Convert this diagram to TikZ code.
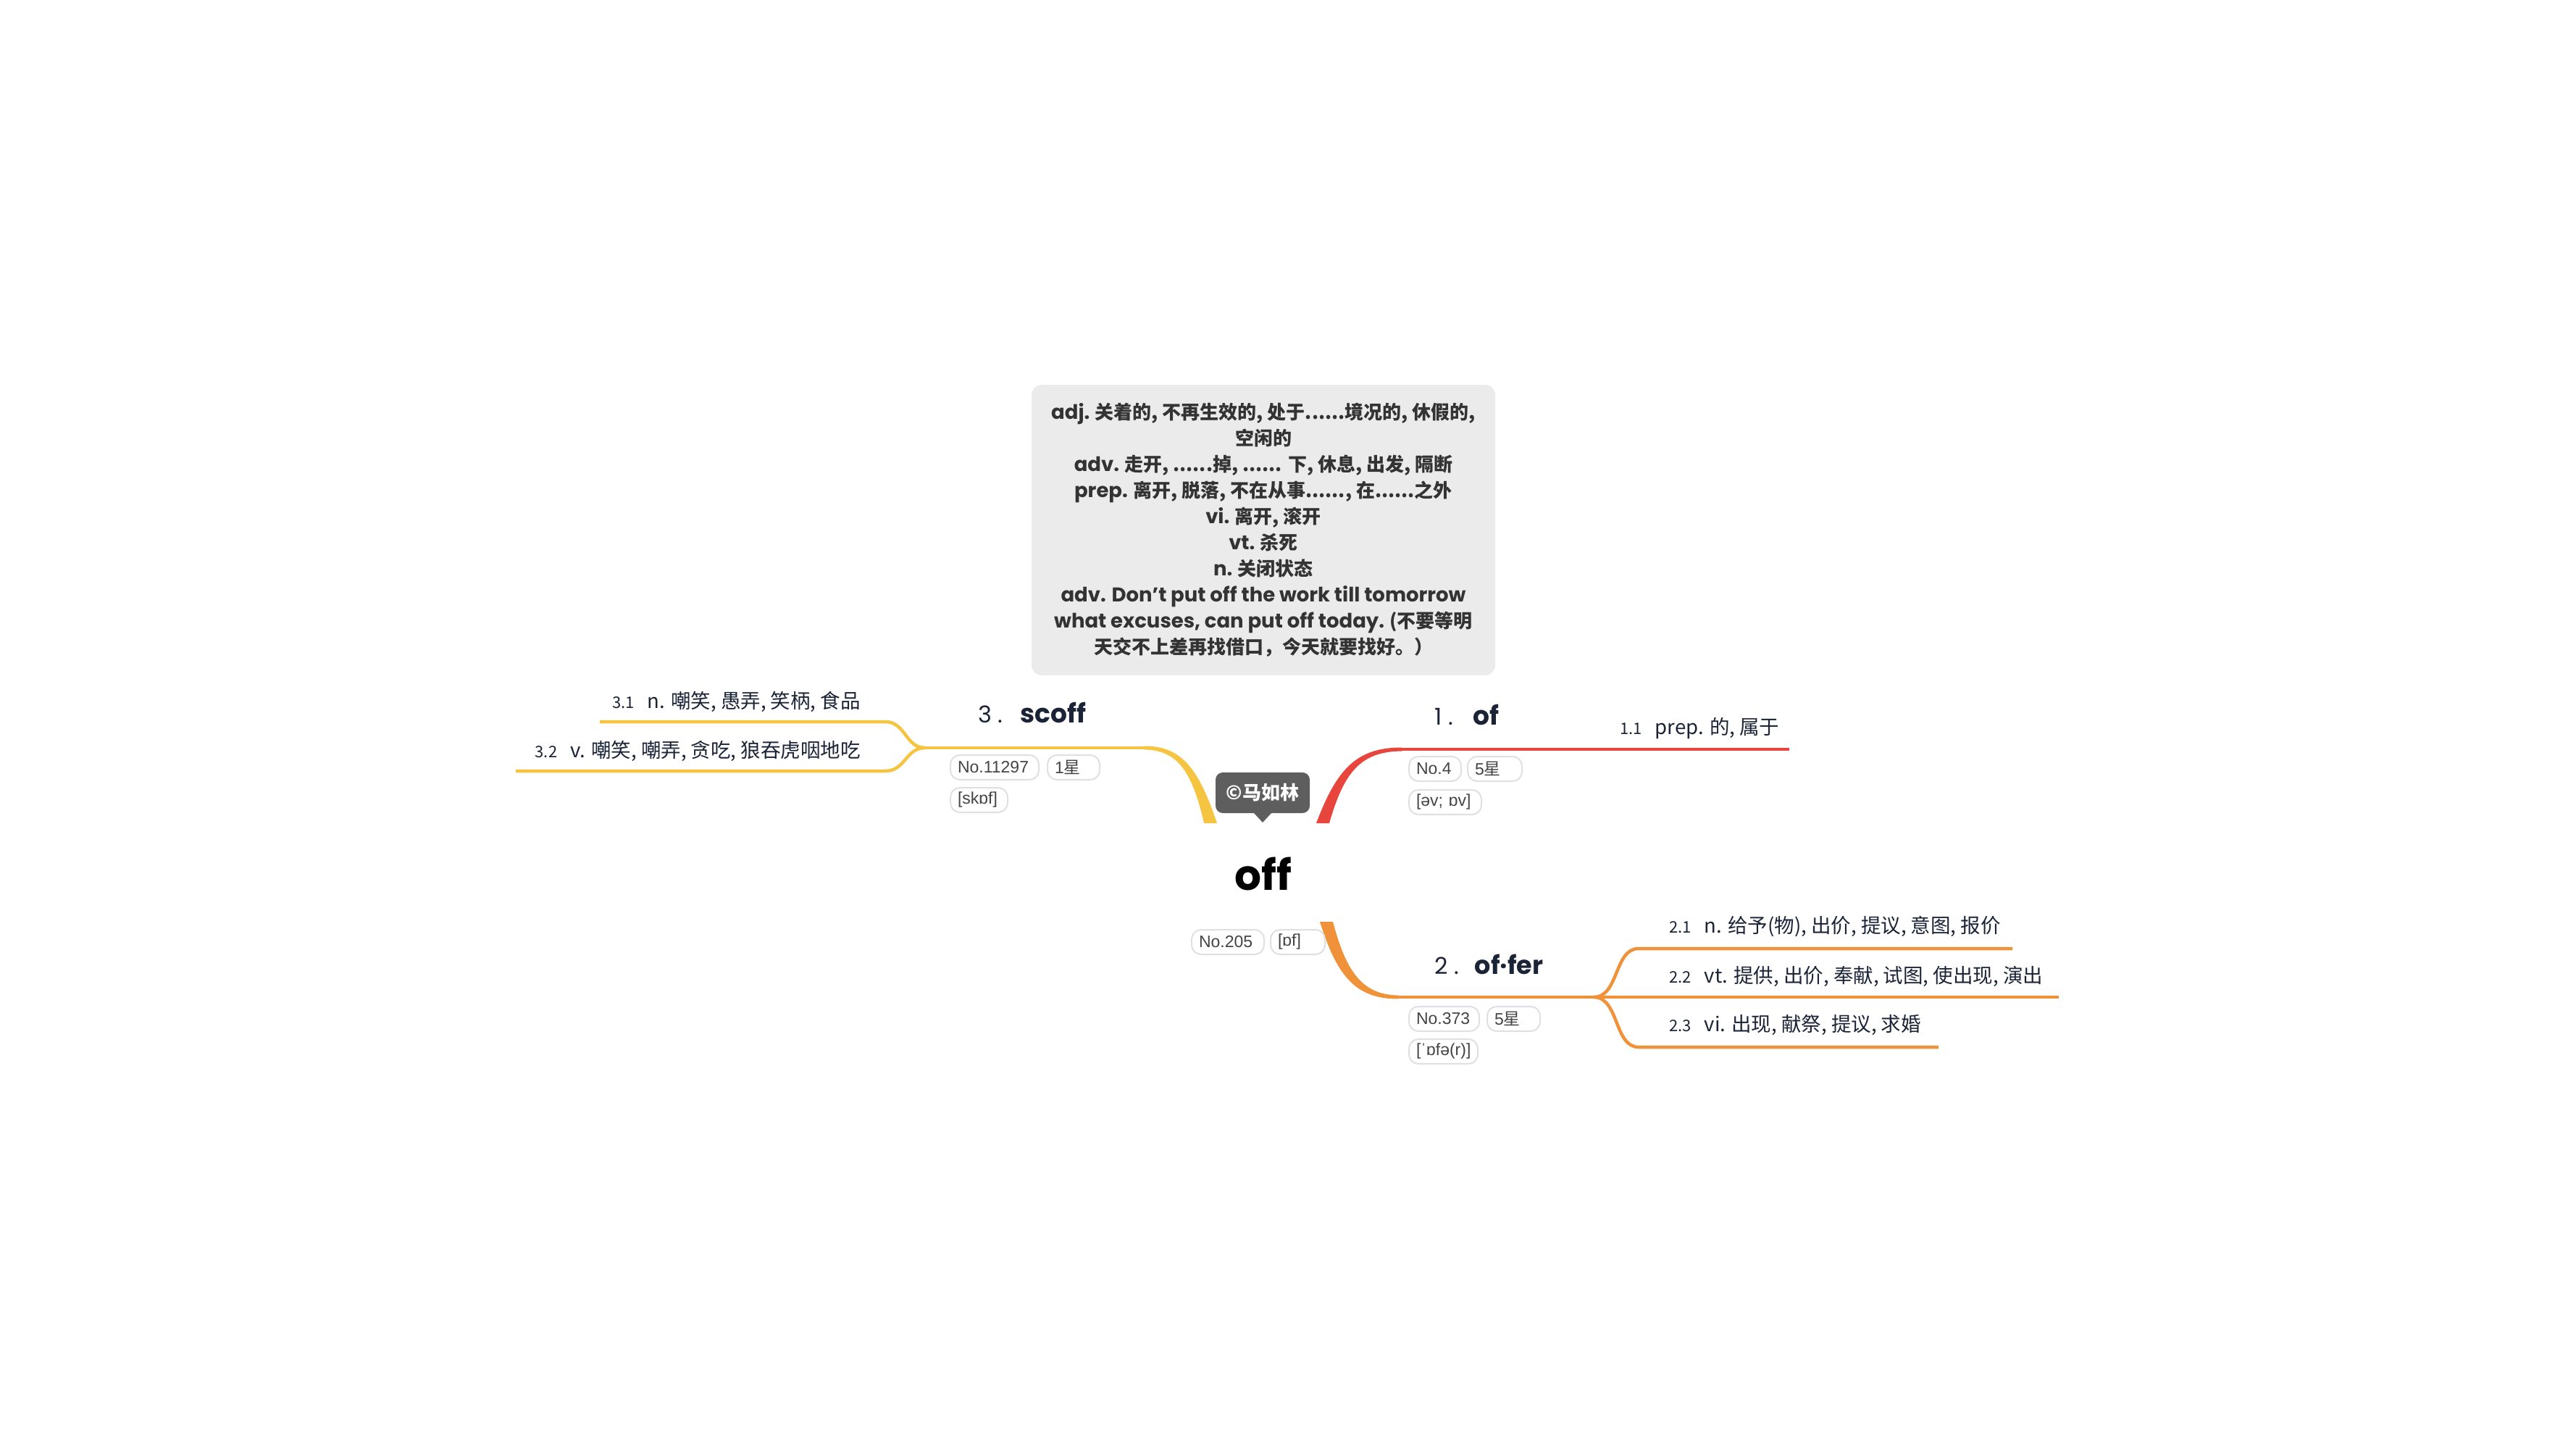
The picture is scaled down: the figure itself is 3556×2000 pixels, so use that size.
\documentclass[tikz,border=0pt]{standalone}
\usepackage{fontspec}
\setmainfont{Poppins}
\newfontfamily\cjk{Noto Sans CJK SC}
\newfontfamily\tagf{Liberation Sans}
\newcommand{\zh}[1]{{\cjk #1}}
\newcommand{\lt}[1]{{\fontsize{27.5}{36}\selectfont #1}}
\definecolor{redc}{HTML}{E8463C}
\definecolor{orac}{HTML}{F0923A}
\definecolor{yelc}{HTML}{F5C542}
\definecolor{boxfill}{HTML}{EBEBEB}
\definecolor{boxtext}{HTML}{333333}
\definecolor{navy}{HTML}{1B2437}
\definecolor{tagline}{HTML}{E0E0E0}
\definecolor{tagtext}{HTML}{444444}
\definecolor{bubble}{HTML}{5E5E5E}
\begin{document}
\begin{tikzpicture}[x=1pt,y=-1pt,
  tagbox/.style={draw=tagline, line width=2pt, rounded corners=13pt, fill=white,
    anchor=west, inner xsep=10pt, inner ysep=0pt, minimum height=34pt,
    align=left, text=tagtext, font=\tagf\fontsize{23}{24}\selectfont},
  sublabel/.style={anchor=west, inner sep=0pt, text=navy,
    font=\cjk\fontsize{27.5}{30}\selectfont},
  titlelabel/.style={anchor=west, inner sep=0pt, text=navy},
  subline/.style={line width=4.5pt, line cap=butt},
]
\fill[white] (0,0) rectangle (3556,2000);
\useasboundingbox (0,0) rectangle (3556,2000);

% ---------- coordinates ----------
\coordinate (rh) at (1930,1034);
\coordinate (re) at (2470,1034);
\coordinate (yh) at (1585,1032);
\coordinate (ysp) at (1277,1032);
\coordinate (y1) at (1222,996);
\coordinate (y1e) at (828,996);
\coordinate (y2) at (1222,1064);
\coordinate (y2e) at (712,1064);
\coordinate (oh) at (1925,1376);
\coordinate (osp) at (2200,1376);
\coordinate (o1) at (2262,1309);
\coordinate (o1e) at (2778,1309);
\coordinate (o2e) at (2842,1376);
\coordinate (o3) at (2262,1445);
\coordinate (o3e) at (2676,1445);

% ---------- red branch ----------
\fill[redc] (1817,1136) .. controls (1845,1062) and (1872,1031.5) .. (1935,1031.5)
  -- (1935,1036.5) .. controls (1878,1037) and (1855,1066) .. (1835,1136) -- cycle;
\draw[redc, subline] (rh) -- (re);

% ---------- yellow branch ----------
\fill[yelc] (1680,1136) .. controls (1655,1062) and (1632,1029.5) .. (1580,1029.5)
  -- (1580,1034.5) .. controls (1626,1035) and (1646,1066) .. (1662,1136) -- cycle;
\draw[yelc, subline] (yh) -- (ysp);
\draw[yelc, subline] (ysp) .. controls (1250,1032) and (1250,996) .. (y1) -- (y1e);
\draw[yelc, subline] (ysp) .. controls (1250,1032) and (1250,1064) .. (y2) -- (y2e);

% ---------- orange branch ----------
\fill[orac] (1822,1272) .. controls (1845,1345) and (1870,1378.5) .. (1930,1378.5)
  -- (1930,1373.5) .. controls (1880,1373) and (1858,1340) .. (1840,1272) -- cycle;
\draw[orac, subline] (oh) -- (osp);
\draw[orac, subline] (osp) .. controls (2235,1376) and (2228,1309) .. (o1) -- (o1e);
\draw[orac, subline] (osp) -- (o2e);
\draw[orac, subline] (osp) .. controls (2235,1376) and (2228,1445) .. (o3) -- (o3e);

% ---------- gray definition box ----------
\node[fill=boxfill, rounded corners=14pt, minimum width=640pt, minimum height=401pt,
  inner sep=0pt, align=center, text=boxtext,
  font=\bfseries\fontsize{26}{36}\selectfont] (defbox) at (1744,731.5) {%
  \lt{adj.} \zh{关着的, 不再生效的, 处于......境况的, 休假的,}\\
  \zh{空闲的}\\
  \lt{adv.} \zh{走开, ......掉, ...... 下, 休息, 出发, 隔断}\\
  \lt{prep.} \zh{离开, 脱落, 不在从事......, 在......之外}\\
  \lt{vi.} \zh{离开, 滚开}\\
  \lt{vt.} \zh{杀死}\\
  \lt{n.} \zh{关闭状态}\\
  \lt{adv. Don't put off the work till tomorrow}\\
  \lt{what excuses, can put off today.} \zh{(不要等明}\\
  \zh{天交不上差再找借口，今天就要找好。）}};

% ---------- center ----------
\node[inner sep=0pt, font=\bfseries\fontsize{58}{60}\selectfont, text=black] (center) at (1744,1206) {off};

\node[fill=bubble, rounded corners=10pt, minimum width=130pt, minimum height=56pt,
  inner sep=0pt, text=white, font=\cjk\bfseries\fontsize{26}{28}\selectfont] (bubble) at (1743,1094) {©马如林};
\fill[bubble] (1730,1121) -- (1756,1121) -- (1743,1135) -- cycle;

\node[tagbox, text width=80pt] (c205) at (1644,1300) {No.205};
\node[tagbox, text width=55pt] (cof) at (1753,1300) {[ɒf]};

% ---------- branch 1 ----------
\node[titlelabel] (t1) at (1980,987) {\fontsize{32}{34}\selectfont 1 .\hspace{28pt}{\bfseries\fontsize{36}{38}\selectfont of}};
\node[sublabel] (s11) at (2236,1005) {{\fontsize{22}{24}\selectfont 1.1}\hspace{18pt}prep. 的, 属于};
\node[tagbox, text width=52pt] (n1) at (1944,1061) {No.4};
\node[tagbox, text width=55pt] (r1) at (2025,1061) {5\zh{星}};
\node[tagbox, text width=80pt] (p1) at (1944,1107) {[əv; ɒv]};

% ---------- branch 2 ----------
\node[titlelabel] (t2) at (1980,1331) {\fontsize{32}{34}\selectfont 2 .\hspace{22pt}{\bfseries\fontsize{35}{38}\selectfont of·fer}};
\node[sublabel] (s21) at (2304,1279) {{\fontsize{22}{24}\selectfont 2.1}\hspace{18pt}n. 给予(物), 出价, 提议, 意图, 报价};
\node[sublabel] (s22) at (2304,1347) {{\fontsize{22}{24}\selectfont 2.2}\hspace{18pt}vt. 提供, 出价, 奉献, 试图, 使出现, 演出};
\node[sublabel] (s23) at (2304,1415) {{\fontsize{22}{24}\selectfont 2.3}\hspace{18pt}vi. 出现, 献祭, 提议, 求婚};
\node[tagbox, text width=77pt] (n2) at (1944,1406) {No.373};
\node[tagbox, text width=53pt] (r2) at (2052,1406) {5\zh{星}};
\node[tagbox, text width=75pt] (p2) at (1944,1451) {[ˈɒfə(r)]};

% ---------- branch 3 ----------
\node[titlelabel] (t3) at (1350,984) {\fontsize{32}{34}\selectfont 3 .\hspace{24pt}{\bfseries\fontsize{36}{38}\selectfont scoff}};
\node[sublabel, anchor=east] (s31) at (1188,968) {{\fontsize{22}{24}\selectfont 3.1}\hspace{18pt}n. 嘲笑, 愚弄, 笑柄, 食品};
\node[sublabel, anchor=east] (s32) at (1188,1036) {{\fontsize{22}{24}\selectfont 3.2}\hspace{18pt}v. 嘲笑, 嘲弄, 贪吃, 狼吞虎咽地吃};
\node[tagbox, text width=102pt] (n3) at (1311,1059) {No.11297};
\node[tagbox, text width=52pt] (r3) at (1445,1059) {1\zh{星}};
\node[tagbox, text width=59pt] (p3) at (1311,1104) {[skɒf]};
\end{tikzpicture}
\end{document}
